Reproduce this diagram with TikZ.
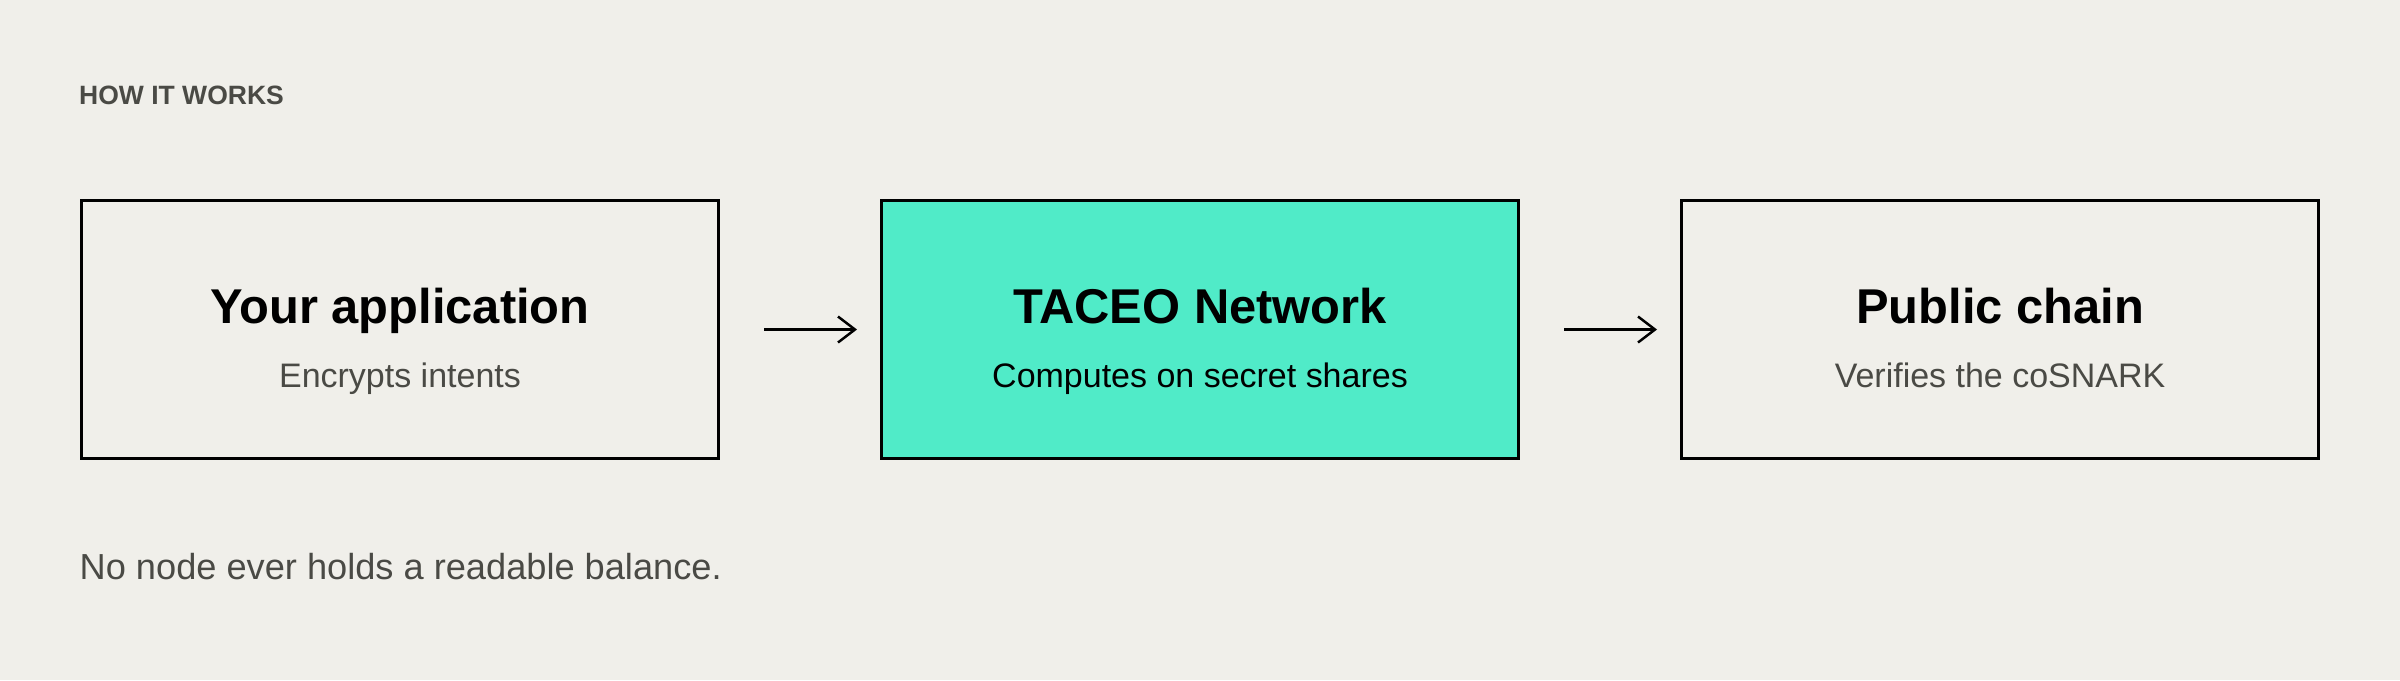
\documentclass[tikz,border=0pt]{standalone}
\usepackage{fontspec}
\setmainfont{Liberation Sans}
\usepackage{tikz}
\usetikzlibrary{positioning, arrows.meta}
\definecolor{paper}{HTML}{F0EFEA}
\definecolor{taceo}{HTML}{50EBC8}
\definecolor{muted}{HTML}{4A4A45}

\begin{document}
\begin{tikzpicture}[
      node distance=1.63cm,
      box/.style = {shape=rectangle, draw=black, line width=0.9pt,
        minimum width=6.37cm, minimum height=2.58cm,
        outer sep=0pt, inner sep=0pt
      },
      netbox/.style = {box, fill=taceo},
      boxtitle/.style = {anchor=base, inner sep=0pt,
        font=\fontsize{13.9pt}{16pt}\selectfont\bfseries},
      boxsub/.style = {anchor=base, inner sep=0pt, text=muted,
        font=\fontsize{9.67pt}{12pt}\selectfont},
      heading/.style = {anchor=base west, inner sep=0pt, text=muted,
        font=\fontsize{7.54pt}{9pt}\selectfont\bfseries},
      footnote/.style = {anchor=base west, inner sep=0pt, text=muted,
        font=\fontsize{10.3pt}{12pt}\selectfont},
      flow/.style = {-{Straight Barb[length=0.17cm, width=0.26cm]},
        line width=0.7pt, shorten <=0.455cm, shorten >=0.245cm}
    ]
        \fill[paper] (0,0) rectangle (24,-6.8);
        \useasboundingbox (0,0) rectangle (24,-6.8);

        \node[heading] (how) at (0.785,-1.04) {HOW IT WORKS};

        % the three steps
        \node[box] (app) at (4,-3.295) {};
        \node[netbox, right=of app] (net) {};
        \node[box, right=of net] (chain) {};

        \node[boxtitle] (appT) at ([yshift=0.065cm]app.center) {Your application};
        \node[boxsub] (appS) at ([yshift=-0.575cm]app.center) {Encrypts intents};
        \node[boxtitle] (netT) at ([yshift=0.065cm]net.center) {TACEO Network};
        \node[boxsub, text=black] (netS) at ([yshift=-0.575cm]net.center) {Computes on secret shares};
        \node[boxtitle] (chainT) at ([yshift=0.065cm]chain.center) {Public chain};
        \node[boxsub] (chainS) at ([yshift=-0.575cm]chain.center) {Verifies the coSNARK};

        \draw[flow] (app) -- (net);
        \draw[flow] (net) -- (chain);

        \node[footnote] (note) at (0.79,-5.79) {No node ever holds a readable balance.};
    \end{tikzpicture}
\end{document}
